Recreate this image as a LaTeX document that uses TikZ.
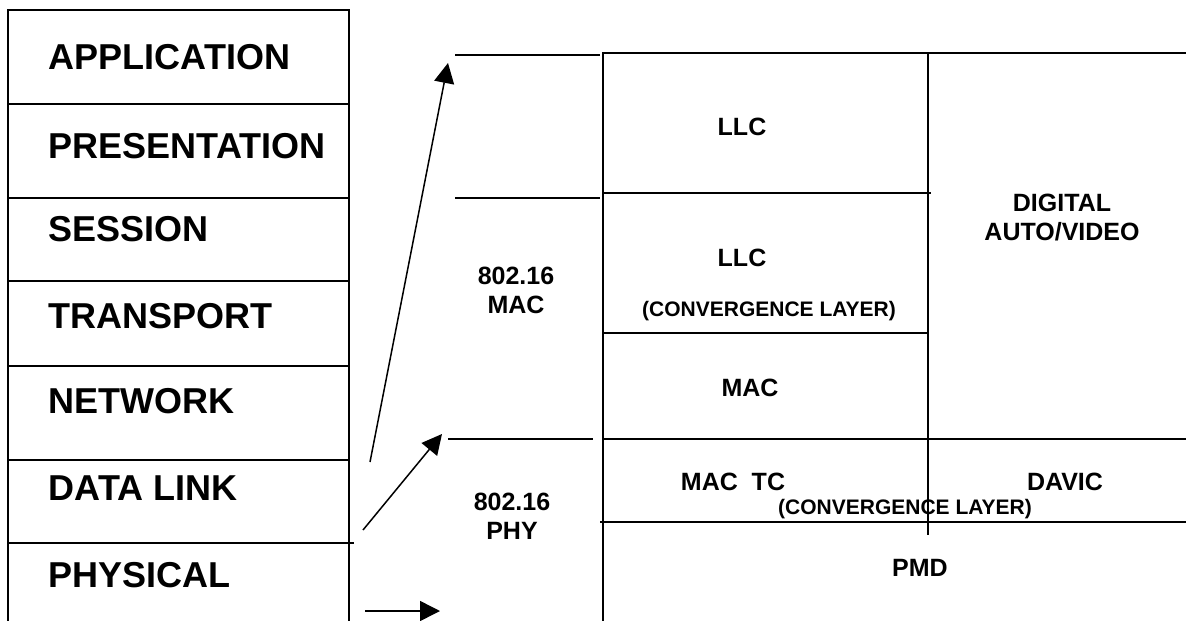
\documentclass[tikz,border=0pt]{standalone}
\usepackage{fontspec}
\setmainfont{Liberation Sans}
\usetikzlibrary{arrows.meta}
\begin{document}
\begin{tikzpicture}[x=1pt,y=-1pt,line width=1.5pt,
  osi/.style={anchor=base west,font=\fontsize{36}{40}\selectfont\bfseries,inner sep=0pt},
  lab/.style={font=\fontsize{25}{29}\selectfont\bfseries,inner sep=0pt,align=center},
  smalllab/.style={font=\fontsize{21}{24}\selectfont\bfseries,inner sep=0pt},
  arr/.style={-{Triangle[length=20pt,width=20pt]}}]
\useasboundingbox (0,0) rectangle (1186,621);
% OSI stack
\draw (8,621) -- (8,10) -- (349,10) -- (349,621);
\foreach \y in {104,198,281,366,460} \draw (8,\y) -- (349,\y);
\draw (8,543) -- (354,543);
\node[osi] (app) at (48,69) {APPLICATION};
\node[osi] (pres) at (48,158.5) {PRESENTATION};
\node[osi] (sess) at (48,241.5) {SESSION};
\node[osi] (trans) at (48,328.5) {TRANSPORT};
\node[osi] (net) at (48,413.5) {NETWORK};
\node[osi] (dl) at (48,500.5) {DATA LINK};
\node[osi] (phys) at (48,587.5) {PHYSICAL};
% arrows
\coordinate (a1s) at (370,462); \coordinate (a1e) at (448,63);
\coordinate (a2s) at (363,530); \coordinate (a2e) at (442,434);
\coordinate (a3s) at (365,611); \coordinate (a3e) at (440,611);
\draw[arr] (a1s) -- (a1e);
\draw[arr] (a2s) -- (a2e);
\draw[arr] (a3s) -- (a3e);
% 802.16 column boundaries
\draw (455,55) -- (600,55);
\draw (455,198) -- (600,198);
\draw (448,439) -- (593,439);
% right grid
\draw (603,621) -- (603,53) -- (1186,53);
\draw (928,53) -- (928,535);
\draw (603,193) -- (931,193);
\draw (603,333) -- (928,333);
\draw (603,439) -- (1186,439);
\draw (600,522) -- (1186,522);
% labels
\node[lab] (mac802) at (516,290) {802.16\\MAC};
\node[lab] (phy802) at (512,516) {802.16\\PHY};
\node[lab] (llc1) at (742,127) {LLC};
\node[lab] (llc2) at (742,258) {LLC};
\node[smalllab] (conv1) at (769,311) {(CONVERGENCE LAYER)};
\node[lab] (mac) at (750,388) {MAC};
\node[lab] (dav) at (1062,217.5) {DIGITAL\\AUTO/VIDEO};
\node[lab] (mactc) at (733,482) {MAC\ \ TC};
\node[lab] (davic) at (1065,482) {DAVIC};
\node[smalllab] (conv2) at (905,509) {(CONVERGENCE LAYER)};
\node[lab] (pmd) at (920,568) {PMD};
\end{tikzpicture}
\end{document}
